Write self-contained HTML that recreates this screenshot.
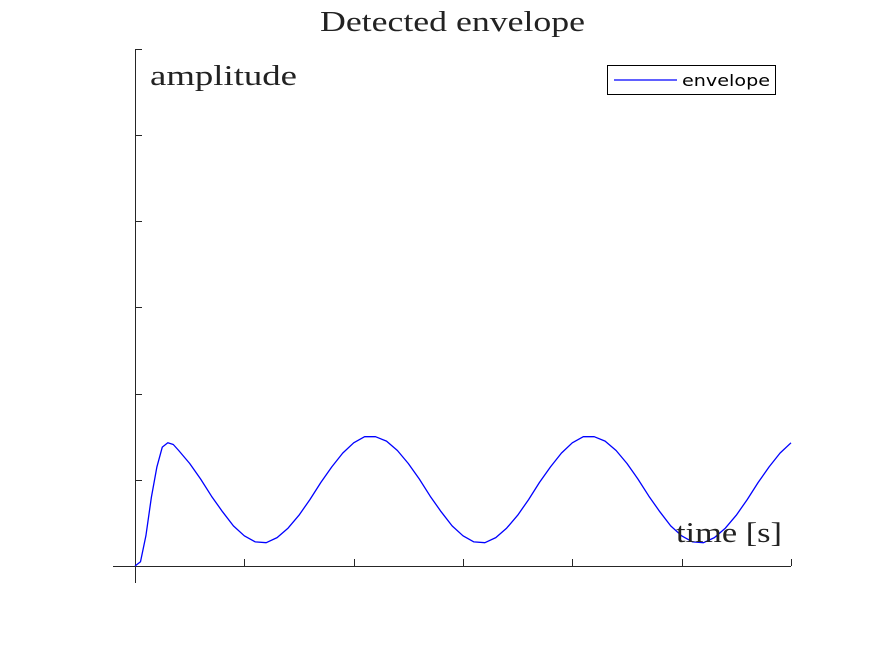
<!DOCTYPE html>
<html><head><meta charset="utf-8"><style>
html,body{margin:0;padding:0;background:#fff;}
svg{display:block;}
</style></head><body>
<svg id="chart" width="875" height="656" viewBox="0 0 875 656" xmlns="http://www.w3.org/2000/svg">
<text x="320" y="31" textLength="265" lengthAdjust="spacingAndGlyphs" font-family="Liberation Serif, serif" font-size="29" fill="#222">Detected envelope</text>
<g id="axes"></g>
<path id="line" fill="none" stroke="#0000ff" stroke-width="1.3" stroke-linejoin="round"/>
<text x="150" y="85" textLength="147" lengthAdjust="spacingAndGlyphs" font-family="Liberation Serif, serif" font-size="29" fill="#222">amplitude</text>
<text x="676" y="542" textLength="106" lengthAdjust="spacingAndGlyphs" font-family="Liberation Serif, serif" font-size="29" fill="#222">time [s]</text>
<g>
<rect x="607.5" y="65.5" width="168" height="29" fill="#fff" stroke="#000" stroke-width="1"/>
<line x1="614" y1="80" x2="677" y2="80" stroke="#0000ff" stroke-width="1.3"/>
<text x="682" y="86" textLength="88" lengthAdjust="spacingAndGlyphs" font-family="DejaVu Sans, sans-serif" font-size="16" fill="#000">envelope</text>
</g>
</svg>
<script>
var xTicks = [0, 1, 2, 3, 4, 5, 6];
var yTicks = [0, 1, 2, 3, 4, 5, 6];
var times = [0, 0.05, 0.1, 0.15, 0.2, 0.25, 0.3, 0.35, 0.4, 0.5, 0.6, 0.7, 0.8, 0.9, 1.0, 1.1, 1.2, 1.3, 1.4, 1.5, 1.6, 1.7, 1.8, 1.9, 2.0, 2.1, 2.2, 2.3, 2.4, 2.5, 2.6, 2.7, 2.8, 2.9, 3.0, 3.1, 3.2, 3.3, 3.4, 3.5, 3.6, 3.7, 3.8, 3.9, 4.0, 4.1, 4.2, 4.3, 4.4, 4.5, 4.6, 4.7, 4.8, 4.9, 5.0, 5.1, 5.2, 5.3, 5.4, 5.5, 5.6, 5.7, 5.8, 5.9, 6.0];
var amps = [0, 0.05, 0.35, 0.8, 1.15, 1.38, 1.43, 1.41, 1.34, 1.19, 1.01, 0.81, 0.63, 0.465, 0.35, 0.28, 0.27, 0.33, 0.44, 0.59, 0.77, 0.97, 1.15, 1.31, 1.43, 1.50, 1.50, 1.45, 1.34, 1.19, 1.01, 0.81, 0.63, 0.465, 0.35, 0.28, 0.27, 0.33, 0.44, 0.59, 0.77, 0.97, 1.15, 1.31, 1.43, 1.50, 1.50, 1.45, 1.34, 1.19, 1.01, 0.81, 0.63, 0.465, 0.35, 0.28, 0.27, 0.33, 0.44, 0.59, 0.77, 0.97, 1.15, 1.31, 1.43];
function sx(v){ return 135 + v * 109.33; }
function sy(v){ return 566 - v * 86.17; }
var NS = 'http://www.w3.org/2000/svg';
var axes = document.getElementById('axes');
function ln(x1,y1,x2,y2,name){
  var l = document.createElementNS(NS,'line');
  l.setAttribute('x1',x1);l.setAttribute('y1',y1);l.setAttribute('x2',x2);l.setAttribute('y2',y2);
  l.setAttribute('stroke','#262626');l.setAttribute('stroke-width','1');
  
  
  axes.appendChild(l);
}
ln(113, 566.5, 791, 566.5, 'x-axis');
ln(135.5, 49, 135.5, 583, 'y-axis');
xTicks.forEach(function(t){ var x = Math.round(sx(t)) + 0.5; ln(x, 559, x, 566, 'x-tick'); });
yTicks.forEach(function(t){ var y = Math.round(sy(t)) + 0.5; ln(135, y, 142, y, 'y-tick'); });
var d = '';
for (var i = 0; i < times.length; i++) d += (i ? 'L' : 'M') + sx(times[i]).toFixed(1) + ',' + sy(amps[i]).toFixed(1);
document.getElementById('line').setAttribute('d', d);
</script>
</body></html>
